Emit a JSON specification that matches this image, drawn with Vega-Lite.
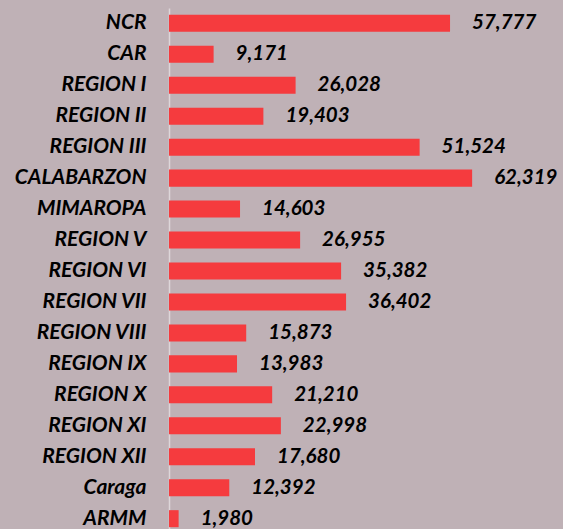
{
  "$schema": "https://vega.github.io/schema/vega-lite/v6.json",
  "autosize": {"type": "none"},
  "padding": {"left": 169, "top": 8, "right": 0, "bottom": 0},
  "width": 394,
  "height": 526,
  "background": "#bfb1b6",
  "config": {"view": {"stroke": null}},
  "data": {"values": [
    {"region": "NCR", "value": 57777},
    {"region": "CAR", "value": 9171},
    {"region": "REGION I", "value": 26028},
    {"region": "REGION II", "value": 19403},
    {"region": "REGION III", "value": 51524},
    {"region": "CALABARZON", "value": 62319},
    {"region": "MIMAROPA", "value": 14603},
    {"region": "REGION V", "value": 26955},
    {"region": "REGION VI", "value": 35382},
    {"region": "REGION VII", "value": 36402},
    {"region": "REGION VIII", "value": 15873},
    {"region": "REGION IX", "value": 13983},
    {"region": "REGION X", "value": 21210},
    {"region": "REGION XI", "value": 22998},
    {"region": "REGION XII", "value": 17680},
    {"region": "Caraga", "value": 12392},
    {"region": "ARMM", "value": 1980}
  ]},
  "encoding": {
    "y": {"field": "region", "type": "nominal", "sort": null,
      "scale": {"paddingInner": 0.45, "paddingOuter": 0.22},
      "axis": {"title": null, "ticks": false, "domain": true, "domainColor": "#ddd6d9", "domainWidth": 1.5,
        "labelFont": "Lato", "labelFontSize": 21, "labelFontWeight": "bold", "labelFontStyle": "italic",
        "labelColor": "#000000", "labelPadding": 23}},
    "x": {"field": "value", "type": "quantitative", "scale": {"domain": [0, 81000], "nice": false}, "axis": null}
  },
  "layer": [
    {"mark": {"type": "bar", "color": "#f53b3e"}},
    {"mark": {"type": "text", "align": "left", "dx": 22, "font": "Lato", "fontSize": 20.5, "fontWeight": "bold", "fontStyle": "italic", "color": "#000000"},
     "encoding": {"text": {"field": "value", "type": "quantitative", "format": ",d"}}}
  ]
}
